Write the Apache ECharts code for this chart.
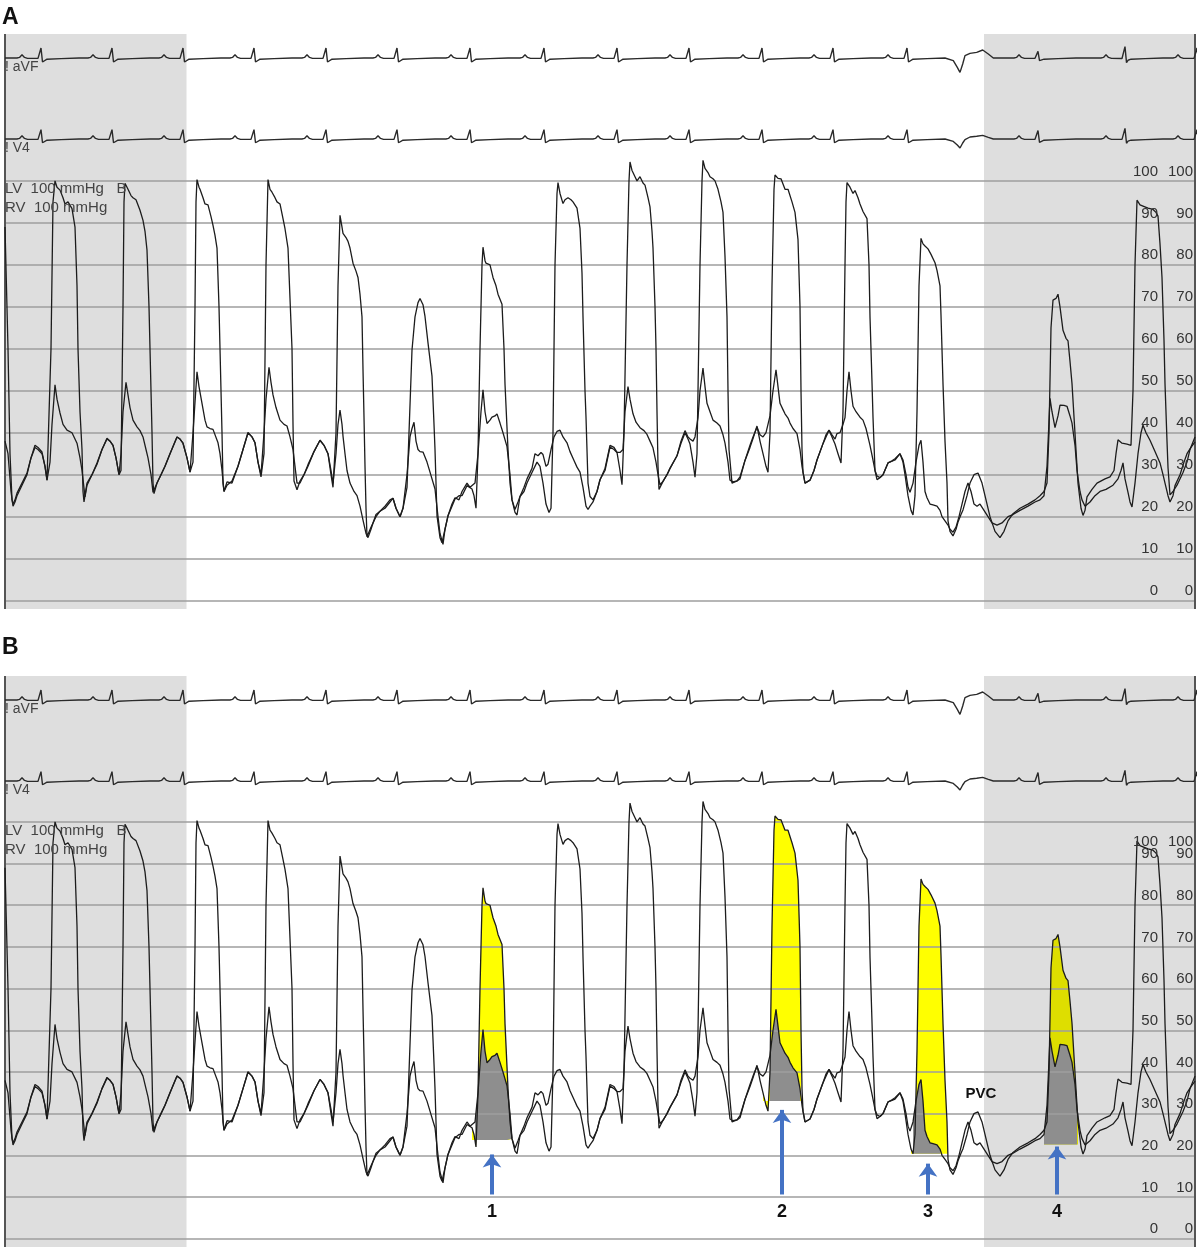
<!DOCTYPE html>
<html>
<head>
<meta charset="utf-8">
<title>LV / RV pressure tracing</title>
<script src="https://cdn.jsdelivr.net/npm/echarts@6.0.0/dist/echarts.min.js"></script>
<style>
  html, body { margin: 0; padding: 0; background: #fff; }
  #chart { width: 1200px; height: 1247px; }
</style>
</head>
<body>
<div id="chart"></div>
<script>
// time in ms, pressure in mmHg
const lvPressure = [
  [0,89],[30,60],[50,35],[70,24],[80,23],[100,24],[120,25.6],[170,28],[220,30.4],[260,34],[300,37],[330,36.5],[370,35.4],[400,32],[420,28.7],[440,29],[460,60],[480,95],[500,100],[520,98.5],[550,97.8],[580,96],[600,94.5],[630,95],[670,93.4],[700,89],[720,75],[730,60],[750,45],[770,36],[780,26],[790,23.5],
  [820,28],[870,30],[920,32.8],[970,36],[1020,38.7],[1050,38],[1080,37],[1110,34],[1140,30],[1160,31],[1180,70],[1190,95],[1200,99.4],[1220,98.5],[1230,98],[1260,96.5],[1280,96],[1310,95.5],[1350,93],[1380,90.6],[1400,88],[1420,83.5],[1440,70],[1450,60],[1470,40],[1480,28],[1490,25.5],
  [1520,28],[1560,30],[1600,32],[1650,35],[1720,39],[1750,38.5],[1780,37.5],[1820,34],[1850,30.6],[1880,33],[1900,70],[1910,95],[1920,100.3],[1940,98.5],[1950,98],[1980,96],[2000,94.5],[2030,94.3],[2060,91.5],[2080,89.4],[2100,87],[2120,84],[2140,70],[2150,60],[2170,40],[2180,28],[2190,26],
  [2220,28.3],[2270,28],[2330,32],[2380,36],[2430,40],[2470,39],[2500,37.6],[2530,33],[2560,29.5],[2590,35],[2610,80],[2630,100.3],[2650,98],[2670,97.3],[2700,96],[2720,95],[2750,94.5],[2780,91],[2800,88.6],[2830,84],[2850,72],[2870,60],[2880,42],[2890,28.5],[2920,26.4],
  [2950,28.5],[2990,30],[3030,32.4],[3090,35.5],[3150,38.2],[3190,37],[3230,35],[3260,30],[3280,27],[3310,40],[3330,75],[3350,91.8],[3370,89],[3380,87.5],[3410,86.5],[3430,85.6],[3450,84],[3480,80.4],[3510,78.5],[3530,77],[3550,73],[3570,67.6],[3580,55],[3590,43.7],[3600,32],[3610,22],[3620,15.2],
  [3640,15.5],[3660,17.5],[3680,18.5],[3710,20],[3750,21.3],[3800,22],[3850,23.5],[3880,24.4],[3910,22],[3930,21],[3950,20],[3980,22],[4020,27],[4040,40],[4070,59.7],[4100,67.6],[4130,71],[4150,72],[4180,70.5],[4200,67.7],[4230,61.4],[4270,53.5],[4290,42],[4300,36],[4310,28],[4320,20.2],[4350,15],[4370,13.8],
  [4400,17],[4430,20.2],[4470,22.5],[4500,24.2],[4540,25],[4570,25],[4620,27.4],[4670,26.6],[4690,25],[4710,22],[4730,35],[4750,60],[4770,80],[4780,84.2],[4800,81],[4810,80.4],[4850,80],[4880,77],[4910,75],[4930,73],[4970,70.6],[4990,60],[5000,51.6],[5030,36],[5050,28],[5070,24],[5100,21],[5120,20.4],
  [5150,24.8],[5190,26],[5220,28],[5270,30.5],[5320,33],[5350,32],[5380,28],[5410,23],[5440,21],[5460,22],[5480,40],[5500,80],[5520,97],[5530,99.6],[5550,97],[5580,94.6],[5600,95.5],[5630,96],[5660,95.5],[5680,95],[5720,93.5],[5750,88.7],[5770,78],[5780,67.6],[5800,50],[5810,43.7],[5830,28],[5850,24.8],
  [5880,24],[5920,26],[5950,28.8],[6000,31],[6050,36.6],[6090,36],[6120,35.3],[6150,31],[6170,27.6],[6190,40],[6220,80],[6240,100],[6250,104.5],[6270,102.5],[6280,102],[6300,101],[6320,100],[6350,101],[6380,99.5],[6400,99],[6430,96],[6450,93.8],[6470,88],[6480,84],[6500,70],[6510,60],[6520,45],[6530,32],[6540,26.5],
  [6580,28.4],[6620,30],[6650,31.5],[6720,34.5],[6760,37.5],[6800,40],[6830,38.5],[6850,37.3],[6880,33],[6900,29.4],[6920,35],[6950,80],[6970,100],[6980,104.9],[7000,103],[7030,102],[7050,101],[7080,100.5],[7100,100],[7130,98],[7160,95],[7180,92.5],[7200,82],[7220,67.6],[7230,50],[7240,36],[7270,28],
  [7280,28.3],[7320,28.5],[7350,29],[7400,33.4],[7450,36.5],[7480,38.6],[7520,41.6],[7550,38],[7580,35],[7610,32],[7630,30.6],[7650,40],[7670,75],[7690,98],[7700,101.4],[7730,100.6],[7760,100.5],[7800,98],[7830,98],[7870,95],[7900,92.5],[7930,86],[7940,78],[7950,70],[7960,50],[7970,36],[7980,30.6],
  [8000,28],[8050,28.7],[8090,31],[8120,33.5],[8180,37.4],[8210,39],[8240,40.6],[8270,39],[8300,37.3],[8330,35],[8360,32.8],[8380,45],[8400,80],[8410,95],[8420,99.6],[8450,98.5],[8480,97],[8500,97.7],[8530,96],[8550,94.5],[8580,92.7],[8620,91],[8640,80],[8650,67.6],[8670,52],[8680,43.7],[8700,31],[8720,28.8],
  [8750,29.3],[8780,30],[8830,32.8],[8870,33.2],[8900,33.5],[8950,35],[8980,33],[9000,30],[9030,25],[9060,21.5],[9080,20.4],[9100,25],[9120,45],[9140,75],[9160,86.3],[9180,85],[9200,84.5],[9230,83.8],[9260,82.5],[9280,82.3],[9300,80.5],[9320,78.7],[9350,75],[9360,68],[9380,51.7],[9400,38],[9420,28],[9430,19],[9450,16.5],[9480,15.4],
  [9510,17],[9530,18.7],[9560,20.5],[9580,21.6],[9620,25],[9650,28],[9690,30],[9730,30.4],[9770,28],[9810,24],[9850,20],[9900,16.5],[9950,15],[9990,16.5],[10030,19],[10080,20.7],[10150,22],[10230,23],[10300,24],[10350,25],[10390,26],[10420,28],[10440,40],[10460,65],[10480,71.6],[10510,72],[10530,73],[10550,70],[10580,64.4],[10610,62.5],[10630,61.9],[10650,57],[10670,51.7],[10700,39.8],[10730,28],[10760,22],[10780,20.3],
  [10800,21.5],[10820,24.7],[10870,26.5],[10920,28],[11000,29],[11050,29.5],[11090,31],[11110,35],[11130,38.3],[11170,37.5],[11220,37.3],[11260,37],[11280,50],[11300,80],[11320,95.4],[11350,94.3],[11380,94],[11430,93.5],[11480,93.2],[11510,92.5],[11530,91.6],[11550,85],[11570,77],[11590,62],[11600,51.7],[11620,38],[11630,31.7],[11650,25.2],[11680,26],[11720,27.5],[11780,30.5],[11820,33],[11850,36],[11900,39]
];

const rvPressure = [
  [0,38],[30,35],[60,26],[80,22.5],[100,23.5],[120,25],[170,27.5],[220,30],[260,34],[300,36.5],[330,36],[370,35],[400,32],[420,28.7],[450,33],[470,42],[500,51.4],[520,48],[550,44.7],[580,42],[620,40.6],[670,40],[720,37.5],[750,34],[770,31],[800,24.7],
  [820,27.5],[870,30],[920,32.5],[970,36],[1020,38.5],[1050,38],[1080,37],[1110,34],[1140,30],[1160,35],[1180,45],[1210,52],[1230,49],[1250,46],[1280,43],[1320,41.4],[1350,40.5],[1380,39],[1410,36],[1430,34],[1460,30],[1480,25.8],
  [1520,28],[1560,30],[1600,32],[1650,35],[1720,39],[1750,38.5],[1780,37.5],[1820,34],[1850,30.6],[1880,40],[1920,54.5],[1940,51],[1970,47],[2000,43],[2020,41.4],[2050,41],[2080,40.8],[2130,37.6],[2150,35],[2170,31],[2190,26],
  [2220,27.5],[2270,28.5],[2330,32],[2380,36],[2430,40],[2470,39],[2500,37.6],[2530,33],[2560,30],[2590,40],[2610,48],[2640,55.6],[2660,52],[2680,49],[2710,46],[2750,43],[2790,42],[2820,41.6],[2850,39],[2880,36],[2900,32],[2920,28],
  [2950,28],[2990,30],[3030,32],[3090,35.5],[3150,38.2],[3190,37],[3230,35],[3260,31],[3280,28],[3310,35],[3330,42],[3350,45.4],[3370,42],[3380,39.2],[3400,35],[3420,31],[3450,28],[3490,26],[3520,25],[3550,22.5],[3580,19.2],[3610,16],[3630,15],
  [3660,17],[3680,18.5],[3710,20.5],[3750,21.3],[3800,22.5],[3850,24],[3880,24.4],[3910,22],[3930,21],[3950,20],[3980,22],[4020,30],[4050,39],[4070,41],[4090,42.5],[4110,38],[4130,36],[4150,35.5],[4180,35.4],[4220,33],[4250,30.6],[4300,26.6],[4330,20],[4350,16],[4380,13.4],
  [4400,17],[4430,20.2],[4470,23],[4500,24.5],[4540,24],[4570,26],[4620,28],[4650,27],[4670,27],[4700,28],[4730,35],[4760,45],[4780,50.2],[4800,45],[4820,42.2],[4850,43],[4870,43.7],[4900,44],[4920,44.5],[4950,42.3],[4980,40],[5020,36.7],[5050,30],[5070,24],[5100,21.7],
  [5130,23.5],[5150,24.8],[5190,27],[5220,29],[5270,31.5],[5300,35],[5330,34.5],[5360,35.3],[5380,34.8],[5410,32],[5430,32.5],[5460,36],[5490,39],[5520,40.3],[5550,40.6],[5580,39],[5620,37.6],[5650,35.5],[5690,33.4],[5720,31.8],[5750,30.6],[5780,27],[5810,22.5],[5830,21.7],[5850,22.5],
  [5880,23.5],[5920,26],[5950,28.8],[6000,31.5],[6050,37],[6090,36.5],[6120,35.3],[6150,35.3],[6180,36],[6200,45],[6230,51],[6250,48],[6280,44.5],[6310,42.5],[6350,41.2],[6390,40.5],[6420,39.6],[6450,38],[6480,36.4],[6510,33],[6530,30],[6550,27.6],
  [6580,28.4],[6620,30],[6650,31.5],[6720,34.5],[6760,38],[6800,40.5],[6830,39],[6850,38.5],[6880,38],[6900,39],[6930,43.6],[6950,50],[6980,55.4],[7000,51],[7020,47],[7050,45],[7080,43],[7120,42.3],[7150,41.6],[7180,39.5],[7200,37.5],[7230,33],[7250,28.7],
  [7280,28.3],[7320,28.5],[7350,29.5],[7400,33.4],[7450,37],[7480,39],[7520,41.3],[7550,39.5],[7580,39],[7610,40],[7650,44],[7680,50],[7710,55],[7730,51],[7750,47],[7780,45.5],[7800,44.5],[7830,43.5],[7850,42.3],[7880,41],[7920,39.8],[7950,36],[7970,32],[7980,30.6],
  [8000,28],[8050,28.7],[8090,31],[8120,33.5],[8180,37.4],[8210,39.5],[8240,40.6],[8270,39.5],[8300,38.5],[8320,39.8],[8350,40],[8380,42],[8400,43.6],[8420,50],[8440,54.5],[8460,50],[8480,46.3],[8510,45],[8550,43.7],[8580,43],[8610,41],[8630,39],[8650,37],[8680,33.5],[8700,31],[8720,29.7],
  [8750,29.3],[8780,30],[8830,32.8],[8870,33.3],[8900,33.8],[8950,35],[8980,33.5],[9010,30],[9030,27],[9050,25.8],[9080,28],[9110,33],[9140,37],[9160,38.2],[9180,33],[9200,26],[9220,24.5],[9250,23],[9280,22.8],[9320,22.5],[9350,21.5],[9370,20],[9400,19],[9430,18],[9450,17],[9480,16.3],
  [9510,17.5],[9540,20],[9570,23],[9600,26],[9630,28],[9660,26],[9690,23],[9720,22.5],[9750,23],[9790,21.5],[9830,20],[9870,18.5],[9920,18],[9970,18.5],[10030,20],[10080,20.5],[10150,21.5],[10230,22.5],[10300,23.5],[10350,24],[10390,25],[10420,32],[10450,48.2],[10470,45],[10500,41.2],[10530,44],[10550,46.6],[10590,46.5],[10620,46.3],[10650,44],[10670,42.3],[10700,37],[10720,31],[10750,26],[10770,24],
  [10800,22.5],[10850,23.5],[10900,25],[10950,26],[11010,26.5],[11080,27.5],[11130,29],[11160,31],[11180,32.8],[11200,29],[11230,25.8],[11250,23.5],[11270,22.3],[11300,28],[11330,35],[11360,40],[11380,41.8],[11410,40],[11450,38.2],[11500,35.5],[11550,32.8],[11580,30],[11600,28],[11630,25],[11650,23.5],[11680,25],[11700,27.4],[11750,30],[11790,33],[11820,35],[11860,36.5],[11900,37.8]
];

const tickValues = [0, 10, 20, 30, 40, 50, 60, 70, 80, 90, 100];
const greyZones = [[0, 1815], [9790, 11900]];

// ECG: R-wave times (ms) and R amplitudes (mV) per lead
const rWaveTimes = [360, 1070, 1780, 2490, 3210, 3920, 4650, 5390, 6120, 6840, 7570, 8280, 9020, 10330, 11200, 11920];
const avfAmps = [0.5, 0.5, 0.5, 0.5, 0.5, 0.5, 0.5, 0.5, 0.5, 0.5, 0.5, 0.5, 0.5, 0.33, 0.57, 0.5];
const v4Amps = [0.47, 0.47, 0.47, 0.47, 0.47, 0.47, 0.47, 0.47, 0.47, 0.47, 0.47, 0.47, 0.47, 0.42, 0.53, 0.47];
// one normal complex, ms from R and mV
const complexTimes = [-240, -215, -190, -165, -135, -30, -10, 0, 15, 30, 60, 200, 380];
const complexShape = [0, 0.03, 0.16, 0.03, -0.02, -0.02, 0.05, 0.5, -0.2, -0.1, -0.06, -0.03, 0];
// premature ventricular complex
const pvcTimes = [9417, 9483, 9523, 9550, 9577, 9600, 9650, 9717, 9777, 9833, 9883];
const pvcAvf = [0, -0.13, -0.47, -0.72, -0.3, 0.12, 0.23, 0.28, 0.4, 0.2, 0];
const pvcV4 = [0, -0.12, -0.3, -0.45, -0.2, -0.03, 0.1, 0.14, 0.18, 0.08, 0];

// panel B highlights
const fillYellow = [[4660, 5080], [7580, 7960], [9050, 9430], [10370, 10730]];
const fillGrey = [[4700, 5070], [7630, 7950], [9070, 9350], [10370, 10720]];
const fillBase = [23.7, 33, 20.4, 22.6];
const yellowColors = ['#ffff00', '#ffff00', '#ffff00', '#dede00'];
const arrowLabels = ['1', '2', '3', '4'];
const arrowTimes = [4870, 7770, 9230, 10520];
const arrowTips = [20.2, 30.9, 18.0, 22.1];
const arrowTail = 10.6;

const FONT = '"Liberation Sans", Arial, sans-serif';

function ecgTrace(amps, pvc) {
  const pts = [[0, 0]];
  rWaveTimes.forEach((r, i) => {
    complexTimes.forEach((dt, j) => {
      const k = Math.abs(dt) <= 30 ? amps[i] / 0.5 : 1;
      pts.push([r + dt, complexShape[j] * k]);
    });
  });
  pvcTimes.forEach((t, j) => pts.push([t, pvc[j]]));
  pts.sort((a, b) => a[0] - b[0]);
  return pts;
}

function slice(data, range) {
  return data.filter(d => d[0] >= range[0] && d[0] <= range[1]);
}

const avfData = ecgTrace(avfAmps, pvcAvf);
const v4Data = ecgTrace(v4Amps, pvcV4);

const grid = [], xAxis = [], yAxis = [], series = [], graphic = [];
const traceStyle = { color: '#1c1c1c', width: 1.3 };

[0, 642].forEach((dy, p) => {
  const g0 = grid.length;
  grid.push({ left: 5, width: 1190, top: 38 + dy, height: 40 });
  grid.push({ left: 5, width: 1190, top: 119 + dy, height: 40 });
  grid.push({ left: 5, width: 1190, top: 34 + dy, height: 575 });
  for (let i = 0; i < 3; i++) {
    xAxis.push({ type: 'value', gridIndex: g0 + i, min: 0, max: 11900, show: false });
  }
  const yEcg1 = yAxis.length;
  yAxis.push({ type: 'value', gridIndex: g0, min: -1, max: 1, show: false });
  yAxis.push({ type: 'value', gridIndex: g0 + 1, min: -1, max: 1, show: false });
  const yP = yAxis.length;
  const labelVals = p === 0 ? tickValues : tickValues.filter(v => v < 100);
  [37, 2].forEach(margin => {
    yAxis.push({
      type: 'value', gridIndex: g0 + 2, min: -2, max: 135, position: 'right', z: 20,
      axisLine: { show: false }, axisTick: { show: false }, splitLine: { show: false },
      axisLabel: {
        inside: true, margin: margin, customValues: labelVals,
        color: '#333', fontSize: 15, fontFamily: FONT,
        verticalAlign: 'bottom', padding: [0, 0, 2, 0]
      }
    });
  });

  const base = { xAxisIndex: g0 + 2, yAxisIndex: yP, silent: true, animation: false };
  // grey shading
  series.push(Object.assign({}, base, {
    type: 'line', data: [], z: 1,
    markArea: {
      silent: true, itemStyle: { color: '#dedede' },
      data: greyZones.map(z => [{ xAxis: z[0] }, { xAxis: z[1] }])
    }
  }));
  // horizontal pressure grid + frame
  series.push(Object.assign({}, base, {
    type: 'line', data: [], z: 2,
    markLine: {
      silent: true, symbol: ['none', 'none'], label: { show: false },
      lineStyle: { color: '#9e9e9e', width: 1.6, type: 'solid' },
      data: tickValues.map(v => ({ yAxis: v })).concat([
        { xAxis: 0, lineStyle: { color: '#555', width: 2, type: 'solid' } },
        { xAxis: 11900, lineStyle: { color: '#555', width: 2, type: 'solid' } }
      ])
    }
  }));

  if (p === 1) {
    fillYellow.forEach((r, i) => {
      series.push(Object.assign({}, base, {
        type: 'line', data: slice(lvPressure, r), z: 3, showSymbol: false,
        lineStyle: { width: 0 },
        areaStyle: { color: yellowColors[i], opacity: 1, origin: fillBase[i] }
      }));
    });
    fillGrey.forEach((r, i) => {
      series.push(Object.assign({}, base, {
        type: 'line', data: slice(rvPressure, r), z: 4, showSymbol: false,
        lineStyle: { width: 0 },
        areaStyle: { color: '#8e8e8e', opacity: 1, origin: fillBase[i] }
      }));
    });
  }

  series.push(Object.assign({}, base, {
    name: 'LV', type: 'line', data: lvPressure, z: 5, showSymbol: false, lineStyle: traceStyle
  }));
  series.push(Object.assign({}, base, {
    name: 'RV', type: 'line', data: rvPressure, z: 5, showSymbol: false, lineStyle: traceStyle
  }));
  series.push({
    name: 'aVF', type: 'line', data: avfData, xAxisIndex: g0, yAxisIndex: yEcg1, z: 5,
    showSymbol: false, silent: true, animation: false, lineStyle: { color: '#2a2a2a', width: 1.4 }
  });
  series.push({
    name: 'V4', type: 'line', data: v4Data, xAxisIndex: g0 + 1, yAxisIndex: yEcg1 + 1, z: 5,
    showSymbol: false, silent: true, animation: false, lineStyle: { color: '#2a2a2a', width: 1.4 }
  });

  if (p === 1) {
    series.push(Object.assign({}, base, {
      type: 'line', data: [], z: 6,
      markLine: {
        silent: true, symbol: ['none', 'arrow'], symbolSize: [14, 13],
        lineStyle: { color: '#4472c4', width: 4, type: 'solid' },
        label: {
          show: true, position: 'start', formatter: '{b}', distance: 9,
          fontSize: 18, fontWeight: 'bold', color: '#111', fontFamily: FONT
        },
        data: arrowTimes.map((t, i) => [
          { coord: [t, arrowTail], name: arrowLabels[i] },
          { coord: [t, arrowTips[i]] }
        ])
      },
      markPoint: {
        silent: true, symbol: 'circle', symbolSize: 1,
        itemStyle: { color: 'rgba(0,0,0,0)' },
        label: {
          show: true, position: 'inside', formatter: 'PVC',
          fontSize: 15, fontWeight: 'bold', color: '#111', fontFamily: FONT
        },
        data: [{ coord: [9760, 34.7] }]
      }
    }));
    [1158, 1193].forEach(x => {
      graphic.push({ type: 'text', x: x, y: 842, silent: true, z: 30,
        style: { text: '100', font: '15px ' + FONT, fill: '#333', align: 'right', verticalAlign: 'middle' } });
    });
  }

  // text labels
  const txt = (text, x, y, font, fill) => graphic.push({
    type: 'text', x: x, y: y + dy, silent: true, z: 30,
    style: { text: text, font: font, fill: fill, verticalAlign: 'middle' }
  });
  txt(p === 0 ? 'A' : 'B', 2, p === 0 ? 18 : 6, 'bold 23px ' + FONT, '#111');
  txt('! aVF', 5, 67, '14px ' + FONT, '#444');
  txt('! V4', 5, 148, '14px ' + FONT, '#444');
  txt('LV  100 mmHg   B', 5, 189, '15px ' + FONT, '#444');
  txt('RV  100 mmHg', 5, 208, '15px ' + FONT, '#444');
});

const chart = echarts.init(document.getElementById('chart'));
chart.setOption({
  animation: false,
  backgroundColor: '#fff',
  grid: grid,
  xAxis: xAxis,
  yAxis: yAxis,
  series: series,
  graphic: graphic
});
</script>
</body>
</html>
